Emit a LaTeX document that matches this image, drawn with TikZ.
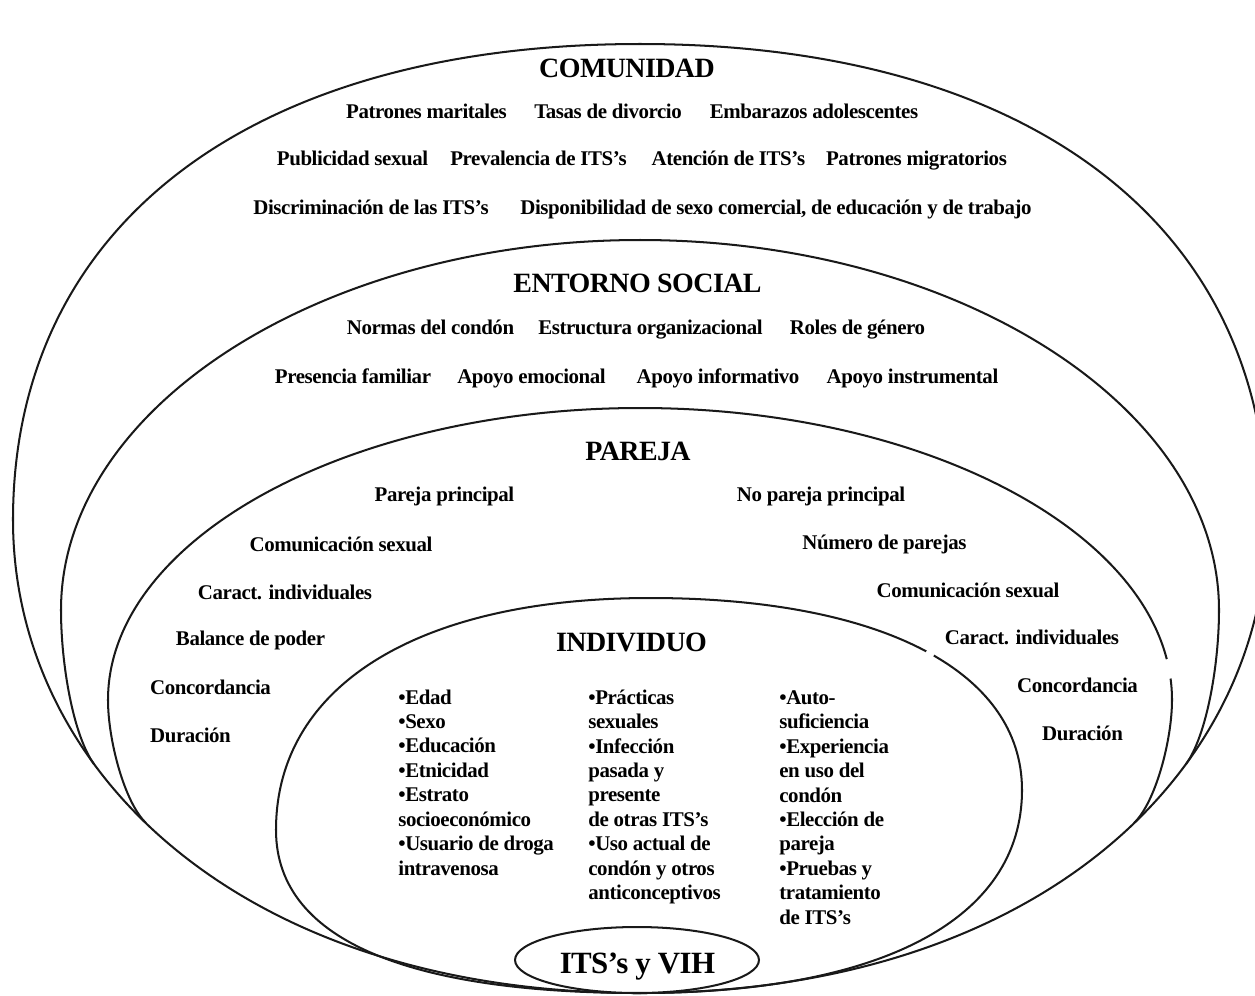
\documentclass[tikz,border=0pt]{standalone}
\usepackage{fontspec}
\usetikzlibrary{shapes.geometric}
\setmainfont{Liberation Serif}[LetterSpace=-2]
\newcommand\myBody{\fontsize{11.9}{13.9}\selectfont\bfseries}
\newcommand\myTitle{\fontsize{15.9}{18}\selectfont\bfseries}
\newcommand\myBig{\fontsize{17.6}{20}\selectfont\bfseries}
\tikzset{
  ring/.style={draw=black!90, line width=1.15pt},
  lbl/.style={font=\myBody, inner sep=0pt, anchor=base},
  ttl/.style={font=\myTitle, inner sep=0pt, anchor=base},
  col/.style={font=\myBody, inner sep=0pt, anchor=base west, align=left},
}
\begin{document}
\begin{tikzpicture}[x=0.02cm, y=-0.02cm]
\clip (0,0) rectangle (1255,995);
\fill[white] (0,0) rectangle (1255,995);
% key points
\coordinate (bot) at (640,993);
\coordinate (oL) at (13,520);   \coordinate (oR) at (1267,520);  \coordinate (oT) at (640,44);
\coordinate (sL) at (61,610);   \coordinate (sR) at (1219,610);  \coordinate (sT) at (640,240);
\coordinate (sML) at (94.1,764.2); \coordinate (sMR) at (1185.9,764.2);
\coordinate (pL) at (108,700);  \coordinate (pR) at (1172,700);  \coordinate (pT) at (640,408);
\coordinate (pML) at (146,823); \coordinate (pMR) at (1134,823);
\coordinate (iL) at (276,830);  \coordinate (iR) at (1022,790);  \coordinate (iT) at (650,598);
% COMUNIDAD boundary (with the shared lower sweep)
\draw[ring] (bot) .. controls (240,993) and (13,770) .. (oL)
  .. controls (13,224.9) and (251.3,44) .. (oT)
  .. controls (1028.7,44) and (1267,224.9) .. (oR)
  .. controls (1267,770) and (1040,993) .. (bot);
% ENTORNO SOCIAL boundary (upper part, joins the outer sweep)
\draw[ring] (sML) .. controls (73.4,735.9) and (61,665) .. (sL)
  .. controls (61,406.5) and (323,240) .. (sT)
  .. controls (957,240) and (1219,406.5) .. (sR)
  .. controls (1219,665) and (1206.6,735.9) .. (sMR);
% PAREJA boundary
\draw[ring] (pML) .. controls (124.4,802.3) and (108,740) .. (pL)
  .. controls (108,539.4) and (347.4,408) .. (pT)
  .. controls (932.6,408) and (1172,539.4) .. (pR)
  .. controls (1172,740) and (1155.6,802.3) .. (pMR);
% INDIVIDUO boundary
\draw[ring] (iL) .. controls (276,686) and (418,598) .. (iT)
  .. controls (880.6,598) and (1022,671) .. (iR)
  .. controls (1022,920) and (880,993) .. (bot)
  .. controls (420,993) and (276,945) .. (iL);
% small gaps in the boundaries
\coordinate (gapA) at (930,653.5);
\coordinate (gapB) at (1168,669);
\fill[white] (gapA) circle (4.5);
\fill[white] (gapB) circle (10);
% ITS y VIH
\node[ellipse, draw=black!90, line width=1.15pt, fill=white, minimum width=4.88cm,
      minimum height=1.32cm, inner sep=0pt] (its) at (637,960) {};
\node[font=\myBig, inner sep=0pt, anchor=base] (itst) at (637.5,973) {ITS’s y VIH};

% COMUNIDAD
\node[ttl] (com) at (627,77) {COMUNIDAD};
\node[lbl] (c1) at (426.5,118) {Patrones maritales};
\node[lbl] (c2) at (608,118) {Tasas de divorcio};
\node[lbl] (c3) at (814,118) {Embarazos adolescentes};
\node[lbl] (c4) at (352.5,165) {Publicidad sexual};
\node[lbl] (c5) at (538.5,165) {Prevalencia de ITS’s};
\node[lbl] (c6) at (728.5,165) {Atención de ITS’s};
\node[lbl] (c7) at (916.5,165) {Patrones migratorios};
\node[lbl] (c8) at (371,214) {Discriminación de las ITS’s};
\node[lbl] (c9) at (776,214) {Disponibilidad de sexo comercial, de educación y de trabajo};

% ENTORNO SOCIAL
\node[ttl] (ent) at (637.5,292) {ENTORNO SOCIAL};
\node[lbl] (e1) at (430.5,334) {Normas del condón};
\node[lbl] (e2) at (650.5,334) {Estructura organizacional};
\node[lbl] (e3) at (857.5,334) {Roles de género};
\node[lbl] (e4) at (353,383) {Presencia familiar};
\node[lbl] (e5) at (531.5,383) {Apoyo emocional};
\node[lbl] (e6) at (718,383) {Apoyo informativo};
\node[lbl] (e7) at (912.5,383) {Apoyo instrumental};

% PAREJA
\node[ttl] (par) at (638,460) {PAREJA};
\node[lbl] (p1) at (444.5,501) {Pareja principal};
\node[lbl] (p2) at (341,551) {Comunicación sexual};
\node[lbl] (p3) at (285,599) {Caract. individuales};
\node[lbl] (p4) at (250.5,645) {Balance de poder};
\node[lbl] (p5) at (210.5,694) {Concordancia};
\node[lbl] (p6) at (190.5,742) {Duración};
\node[lbl] (q1) at (821,501) {No pareja principal};
\node[lbl] (q2) at (884.5,549) {Número de parejas};
\node[lbl] (q3) at (968,597) {Comunicación sexual};
\node[lbl] (q4) at (1032,644) {Caract. individuales};
\node[lbl] (q5) at (1077.5,692) {Concordancia};
\node[lbl] (q6) at (1082.5,740) {Duración};

% INDIVIDUO (base anchor of a multi-line node = last line's baseline)
\node[ttl] (ind) at (631.5,651) {INDIVIDUO};
\node[col] (i1) at (398,875) {\baselineskip=13.93pt
 •Edad\\ •Sexo\\ •Educación\\ •Etnicidad\\ •Estrato\\ socioeconómico\\ •Usuario de droga\\ intravenosa};
\node[col] (i2) at (588,899.6) {\baselineskip=13.93pt
 •Prácticas\\ sexuales\\ •Infección\\ pasada y\\ presente\\ de otras ITS’s\\ •Uso actual de\\ condón y otros\\ anticonceptivos};
\node[col] (i3) at (779,924.1) {\baselineskip=13.93pt
 •Auto-\\ suficiencia\\ •Experiencia\\ en uso del\\ condón\\ •Elección de\\ pareja\\ •Pruebas y\\ tratamiento\\ de ITS’s};
\end{tikzpicture}
\end{document}
